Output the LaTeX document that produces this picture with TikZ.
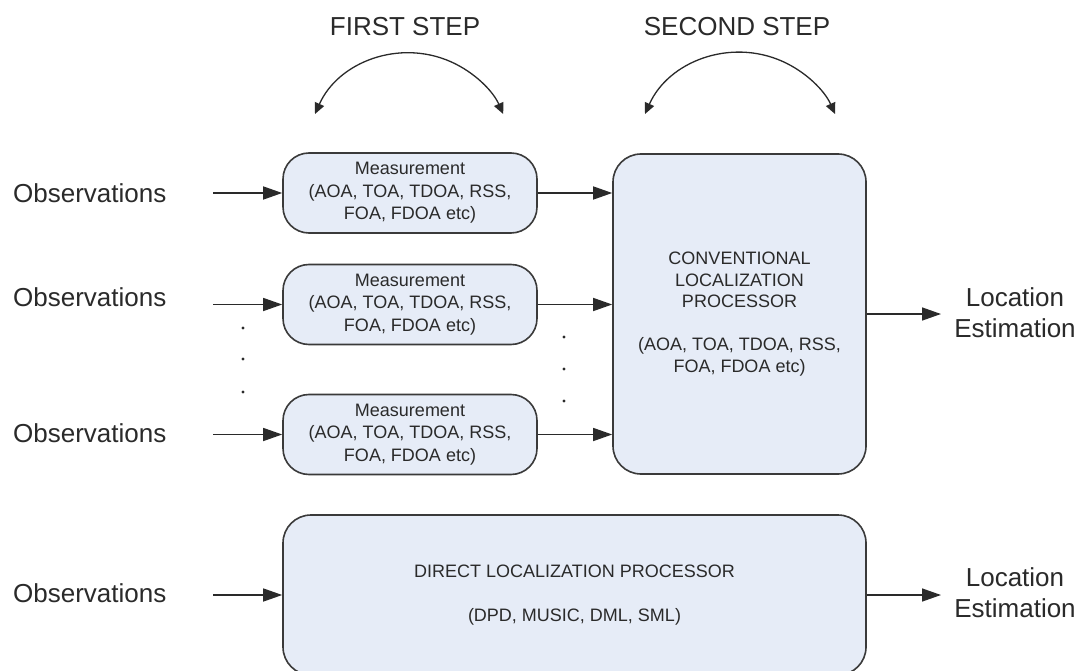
\documentclass[tikz,border=0pt]{standalone}
\usepackage{fontspec}
\setmainfont{Liberation Sans}
\usetikzlibrary{arrows.meta}
\definecolor{boxfill}{HTML}{E6ECF7}
\definecolor{boxline}{HTML}{3A3A3A}
\definecolor{ink}{HTML}{2A2A2A}

\begin{document}
\begin{tikzpicture}[x=1pt,y=-1pt,
  proc/.style={draw=boxline, line width=1.6pt, fill=boxfill, inner sep=0pt,
               align=center, text=ink},
  meas/.style={proc, rounded corners=26pt, minimum width=254pt, minimum height=80pt,
               font=\fontsize{18}{22.5}\selectfont},
  label/.style={text=ink, font=\fontsize{26}{31}\selectfont, inner sep=0pt, align=center},
  arr/.style={draw=ink, line width=1.4pt, -{Triangle[length=19pt,width=13pt]}},
  swing/.style={draw=ink, line width=1.3pt,
                {Triangle[length=11pt,width=10pt]}-{Triangle[length=11pt,width=10pt]}},
  dot/.style={fill=ink, circle, inner sep=0pt, minimum size=3.2pt}
]
% page frame
\clip (0,0) rectangle (1086,671);
\fill[white] (0,0) rectangle (1086,671);

% step headings and their double-headed arcs
\node[label] (first)  at (405,27) {FIRST STEP};
\node[label] (second) at (737,27) {SECOND STEP};
\coordinate (s1) at (315,114);
\coordinate (s2) at (645,114);
\draw[swing] (s1) arc[start angle=204, end angle=336, radius=103];
\draw[swing] (s2) arc[start angle=204, end angle=336, radius=104];

% measurement stages
\node[meas] (m1) at (410,193)   {Measurement\\(AOA, TOA, TDOA, RSS,\\FOA, FDOA etc)};
\node[meas] (m2) at (410,304.5) {Measurement\\(AOA, TOA, TDOA, RSS,\\FOA, FDOA etc)};
\node[meas] (m3) at (410,434.5) {Measurement\\(AOA, TOA, TDOA, RSS,\\FOA, FDOA etc)};

% conventional processor
\node[proc, rounded corners=28pt, minimum width=253pt, minimum height=320pt,
      font=\fontsize{18}{21.5}\selectfont] (cp) at (739.5,314)
  {CONVENTIONAL\\LOCALIZATION\\PROCESSOR\\[21.5pt](AOA, TOA, TDOA, RSS,\\FOA, FDOA etc)};

% direct processor
\node[proc, rounded corners=28pt, minimum width=583pt, minimum height=160pt,
      font=\fontsize{18}{22}\selectfont] (dp) at (574.5,595)
  {DIRECT LOCALIZATION PROCESSOR\\[22pt](DPD, MUSIC, DML, SML)};

% inputs
\node[label, anchor=west] (o1) at (13,193) {Observations};
\node[label, anchor=west] (o2) at (13,297) {Observations};
\node[label, anchor=west] (o3) at (13,433) {Observations};
\node[label, anchor=west] (o4) at (13,593) {Observations};
\coordinate (i1) at (213,193);
\coordinate (i2) at (213,304.5);
\coordinate (i3) at (213,434.5);
\coordinate (i4) at (213,595);
\draw[arr] (i1) -- (m1.west);
\draw[arr] (i2) -- (m2.west);
\draw[arr] (i3) -- (m3.west);
\draw[arr] (i4) -- (dp.west);

% measurements into the conventional processor
\draw[arr] (m1.east) -- (m1.east -| cp.west);
\draw[arr] (m2.east) -- (m2.east -| cp.west);
\draw[arr] (m3.east) -- (m3.east -| cp.west);

% outputs
\node[label] (e1) at (1015,313) {Location\\Estimation};
\node[label] (e2) at (1015,593) {Location\\Estimation};
\coordinate (t1) at (941,314);
\coordinate (t2) at (941,595);
\draw[arr] (cp.east) -- (t1);
\draw[arr] (dp.east) -- (t2);

% ellipsis dots
\node[dot] (dl1) at (243,328) {};
\node[dot] (dl2) at (243,359) {};
\node[dot] (dl3) at (243,392) {};
\node[dot] (dr1) at (564,337) {};
\node[dot] (dr2) at (564,369) {};
\node[dot] (dr3) at (564,401) {};
\end{tikzpicture}
\end{document}
